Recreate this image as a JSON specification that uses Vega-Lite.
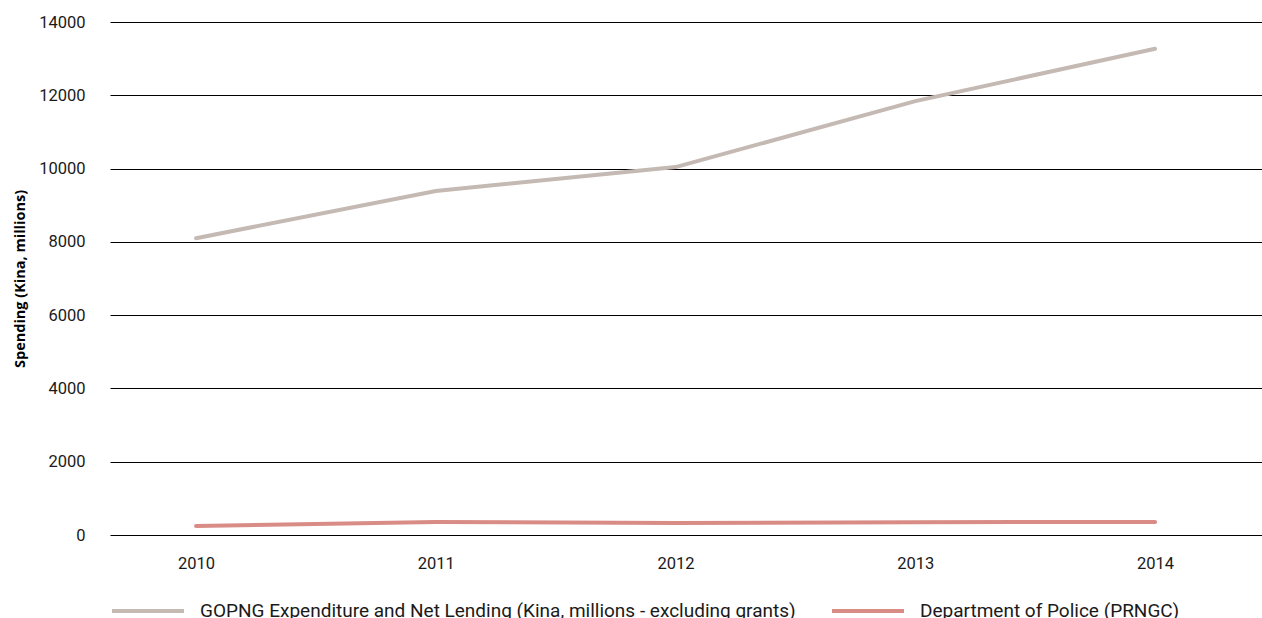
{
  "$schema": "https://vega.github.io/schema/vega-lite/v6.json",
  "width": 1152,
  "height": 513,
  "autosize": {"type": "none"},
  "padding": {"left": 110, "top": 22, "right": 0, "bottom": 83},
  "background": "white",
  "config": {
    "view": {"stroke": null},
    "font": "Roboto"
  },
  "data": {
    "values": [
      {"year": 2010, "series": "GOPNG Expenditure and Net Lending (Kina, millions - excluding grants)", "value": 8100},
      {"year": 2011, "series": "GOPNG Expenditure and Net Lending (Kina, millions - excluding grants)", "value": 9390},
      {"year": 2012, "series": "GOPNG Expenditure and Net Lending (Kina, millions - excluding grants)", "value": 10040},
      {"year": 2013, "series": "GOPNG Expenditure and Net Lending (Kina, millions - excluding grants)", "value": 11840},
      {"year": 2014, "series": "GOPNG Expenditure and Net Lending (Kina, millions - excluding grants)", "value": 13270},
      {"year": 2010, "series": "Department of Police (PRNGC)", "value": 246},
      {"year": 2011, "series": "Department of Police (PRNGC)", "value": 355},
      {"year": 2012, "series": "Department of Police (PRNGC)", "value": 330},
      {"year": 2013, "series": "Department of Police (PRNGC)", "value": 350},
      {"year": 2014, "series": "Department of Police (PRNGC)", "value": 355}
    ]
  },
  "mark": {"type": "line", "strokeWidth": 4, "strokeCap": "round"},
  "encoding": {
    "x": {
      "field": "year",
      "type": "quantitative",
      "scale": {"domain": [2009.641, 2014.446], "nice": false, "zero": false},
      "axis": {
        "values": [2010, 2011, 2012, 2013, 2014],
        "format": "d",
        "title": null,
        "grid": false,
        "domain": false,
        "ticks": false,
        "labelPadding": 20,
        "labelFontSize": 16.5,
        "labelColor": "#1a1a1a",
        "labelFont": "Roboto"
      }
    },
    "y": {
      "field": "value",
      "type": "quantitative",
      "scale": {"domain": [0, 14000], "nice": false},
      "axis": {
        "values": [0, 2000, 4000, 6000, 8000, 10000, 12000, 14000],
        "format": "d",
        "title": "Spending (Kina, millions)",
        "titleFont": "Open Sans",
        "titleFontSize": 14.5,
        "titleFontWeight": "bold",
        "titleColor": "#000000",
        "titlePadding": 11,
        "grid": true,
        "gridColor": "#000000",
        "gridWidth": 1,
        "domain": false,
        "ticks": false,
        "labelPadding": 25,
        "labelFontSize": 16.5,
        "labelColor": "#1a1a1a",
        "labelFont": "Roboto"
      }
    },
    "color": {
      "field": "series",
      "type": "nominal",
      "scale": {
        "domain": ["GOPNG Expenditure and Net Lending (Kina, millions - excluding grants)", "Department of Police (PRNGC)"],
        "range": ["#c4b9b3", "#d98b86"]
      },
      "legend": {
        "orient": "bottom",
        "direction": "horizontal",
        "title": null,
        "symbolType": "stroke",
        "symbolSize": 5184,
        "symbolStrokeWidth": 4,
        "labelFontSize": 19,
        "labelFont": "Roboto",
        "labelColor": "#1a1a1a",
        "labelOffset": 14,
        "columnPadding": 28,
        "labelLimit": 1000,
        "offset": 1,
        "padding": 0
      }
    }
  }
}
